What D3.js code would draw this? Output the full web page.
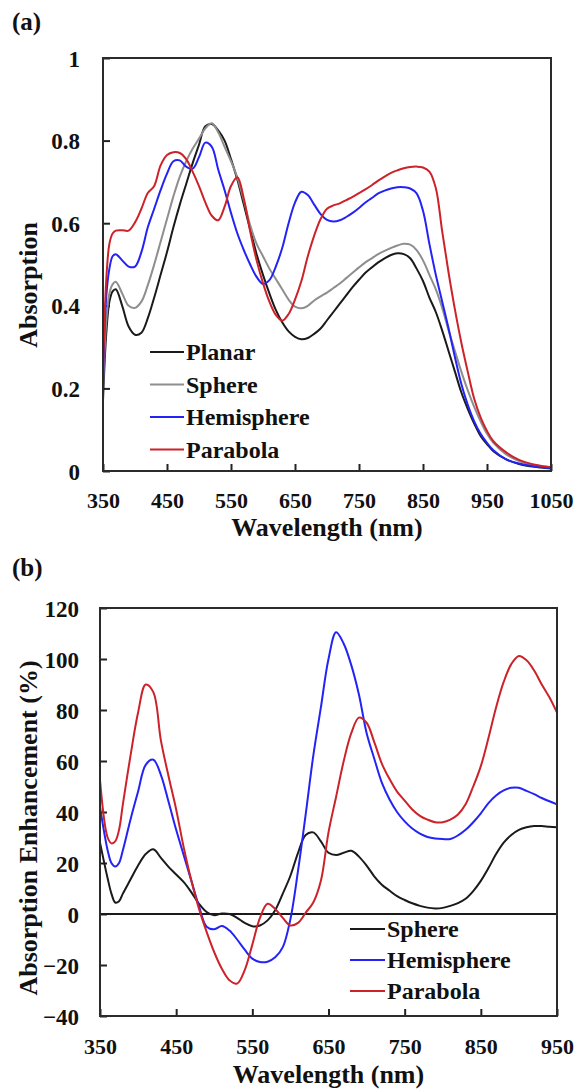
<!DOCTYPE html>
<html>
<head>
<meta charset="utf-8">
<script src="https://cdn.jsdelivr.net/npm/d3@7"></script>
<style>
  body { margin: 0; background: #fff; }
  svg text { font-family: "Liberation Serif", "Times New Roman", serif; font-weight: bold; fill: #111; }
</style>
</head>
<body>
<div class="myViz"></div>
<script>
// ---- panel (a): absorption spectra ----
var wlA = [350, 355, 360, 365, 370, 380, 390, 400, 410, 420, 430, 440, 450, 460, 470, 480, 490, 500,
  510, 520, 530, 540, 550, 560, 570, 580, 590, 600, 610, 620, 630, 640, 650, 660, 670, 680, 690, 700,
  710, 720, 730, 740, 750, 760, 770, 780, 790, 800, 810, 820, 830, 840, 850, 860, 870, 880, 890, 900,
  910, 920, 930, 940, 950, 960, 980, 1000, 1025, 1050];

var planar = [0.17, 0.33, 0.41, 0.435, 0.44, 0.40, 0.35, 0.33, 0.335, 0.37, 0.42, 0.475, 0.53, 0.59, 0.645, 0.695, 0.745, 0.79,
  0.835, 0.84, 0.825, 0.80, 0.755, 0.705, 0.645, 0.585, 0.525, 0.475, 0.43, 0.39, 0.36, 0.338, 0.325, 0.319, 0.322, 0.332, 0.345, 0.365,
  0.385, 0.405, 0.425, 0.445, 0.463, 0.48, 0.493, 0.505, 0.515, 0.523, 0.527, 0.525, 0.515, 0.49, 0.46, 0.42, 0.385, 0.34, 0.29, 0.24,
  0.19, 0.15, 0.115, 0.085, 0.065, 0.048, 0.028, 0.017, 0.01, 0.006];

var sphereA = [0.20, 0.36, 0.43, 0.452, 0.458, 0.43, 0.40, 0.395, 0.41, 0.45, 0.50, 0.555, 0.61, 0.665, 0.713, 0.75, 0.78, 0.805,
  0.83, 0.842, 0.82, 0.785, 0.75, 0.71, 0.655, 0.595, 0.55, 0.52, 0.49, 0.465, 0.44, 0.415, 0.398, 0.394, 0.40, 0.413, 0.423, 0.432,
  0.443, 0.454, 0.467, 0.48, 0.493, 0.505, 0.515, 0.525, 0.533, 0.54, 0.546, 0.55, 0.548, 0.535, 0.51, 0.475, 0.44, 0.395, 0.34, 0.29,
  0.24, 0.195, 0.155, 0.12, 0.09, 0.068, 0.04, 0.024, 0.013, 0.008];

var hemiA = [0.22, 0.42, 0.49, 0.52, 0.525, 0.51, 0.495, 0.495, 0.53, 0.59, 0.635, 0.68, 0.72, 0.75, 0.752, 0.737, 0.732, 0.76,
  0.795, 0.785, 0.73, 0.68, 0.625, 0.575, 0.535, 0.50, 0.47, 0.453, 0.462, 0.495, 0.54, 0.60, 0.65, 0.676, 0.668, 0.645, 0.622, 0.608,
  0.604, 0.607, 0.615, 0.625, 0.637, 0.65, 0.661, 0.672, 0.679, 0.684, 0.687, 0.687, 0.684, 0.672, 0.63, 0.55, 0.475, 0.41, 0.345, 0.275,
  0.21, 0.16, 0.12, 0.09, 0.068, 0.05, 0.028, 0.018, 0.011, 0.007];

var paraA = [0.24, 0.46, 0.55, 0.575, 0.582, 0.583, 0.582, 0.602, 0.635, 0.673, 0.69, 0.74, 0.765, 0.772, 0.77, 0.755, 0.725, 0.69,
  0.65, 0.618, 0.607, 0.64, 0.69, 0.711, 0.66, 0.58, 0.51, 0.455, 0.41, 0.378, 0.364, 0.38, 0.415, 0.46, 0.52, 0.57, 0.61, 0.635,
  0.643, 0.648, 0.656, 0.664, 0.673, 0.682, 0.692, 0.703, 0.713, 0.722, 0.728, 0.733, 0.736, 0.737, 0.735, 0.725, 0.685, 0.58, 0.48, 0.39,
  0.31, 0.24, 0.175, 0.13, 0.097, 0.072, 0.045, 0.027, 0.015, 0.009];

var xTicksA = [350, 450, 550, 650, 750, 850, 950, 1050];
var yTicksA = [0, 0.2, 0.4, 0.6, 0.8, 1];

// ---- panel (b): absorption enhancement ----
var wlB = [350, 360, 365, 370, 375, 380, 390, 400, 410, 420, 430, 440, 450, 460, 470, 480, 490, 500,
  510, 520, 530, 540, 550, 560, 570, 580, 590, 600, 610, 620, 630, 640, 650, 660, 670, 680, 690, 700,
  710, 720, 730, 740, 750, 760, 770, 780, 790, 800, 810, 820, 830, 840, 850, 860, 870, 880, 890, 900,
  910, 920, 930, 940, 950];

var sphereB = [28, 14, 8, 4.5, 5, 8, 13.5, 19, 23.5, 25.4, 22, 18.5, 15.5, 12.5, 8.5, 4, 0.8, -0.5,
  0.2, 0, -1.5, -3.5, -4.8, -4.5, -2.5, 1.5, 8, 15, 24, 31, 32, 28.5, 24, 23.1, 24, 24.8, 22.5, 19,
  14.8, 11.5, 9.2, 7, 5.5, 4.2, 3.2, 2.5, 2.2, 2.4, 3.2, 4.3, 6, 9, 13, 18, 23.5, 28, 31, 33,
  34, 34.5, 34.5, 34.2, 34];

var hemiB = [42, 25, 20, 18.6, 20, 25, 37, 48, 58.5, 60.5, 54.5, 44, 33, 23, 13, 3, -5, -6,
  -4.7, -6.5, -10, -14, -17.5, -18.8, -18.7, -17, -13, -2, 17, 39, 62, 81, 100, 110.5, 106, 97.5, 86, 71,
  61, 51.5, 45, 40, 36.3, 33.5, 31.5, 30.2, 29.6, 29.4, 29.4, 30.8, 33, 36, 39.5, 43.5, 46.5, 48.5, 49.5, 49.5,
  48.3, 47, 45.5, 44.2, 43];

var paraB = [52.5, 30, 27.7, 28.5, 33, 43, 62, 79, 90, 87, 68, 54, 41, 26, 13, 2, -7, -15,
  -21.5, -26, -27.3, -22, -12, -1.5, 4, 2, -1.5, -4.5, -3.5, 0.5, 4.5, 13, 32, 46, 60, 71, 77, 75,
  67.5, 59, 53, 48, 44.5, 41, 38.5, 37, 36, 36, 37, 39, 43, 50, 58, 69, 81, 91, 98, 101.2,
  99.5, 95.5, 90, 85, 79];

var xTicksB = [350, 450, 550, 650, 750, 850, 950];
var yTicksB = [-40, -20, 0, 20, 40, 60, 80, 100, 120];

var colors = {planar: "#1a1a1a", sphere: "#8e8e8e", hemi: "#2323f5", para: "#cc2229"};

var svg = d3.select(".myViz").append("svg")
  .attr("width", 575)
  .attr("height", 1090);

function drawPanel(opt) {
  var g = svg.append("g").attr("transform", `translate(${opt.left}, ${opt.top})`);
  var w = opt.width, h = opt.height;

  var x = d3.scaleLinear().domain(opt.xDomain).range([0, w]);
  var y = d3.scaleLinear().domain(opt.yDomain).range([h, 0]);

  // x axis, ticks pointing inward
  var xa = g.append("g")
    .attr("transform", "translate(0," + h + ")")
    .call(d3.axisBottom(x).tickValues(opt.xTicks).tickSize(-7).tickFormat(d3.format("d")));
  xa.select(".domain").remove();
  xa.selectAll("line").attr("stroke", "#222").attr("stroke-width", 2);
  xa.selectAll("text")
    .attr("y", opt.xLabelDy).attr("dy", null)
    .style("font-size", "22px");

  var ya = g.append("g")
    .call(d3.axisLeft(y).tickValues(opt.yTicks).tickSize(-7).tickFormat(opt.yFormat));
  ya.select(".domain").remove();
  ya.selectAll("line").attr("stroke", "#222").attr("stroke-width", 2);
  ya.selectAll("text")
    .attr("x", -opt.yLabelPad).attr("dy", "0.35em")
    .style("font-size", "23px");

  if (opt.zeroLine) {
    g.append("line")
      .attr("x1", 0).attr("x2", w)
      .attr("y1", y(0)).attr("y2", y(0))
      .attr("stroke", "#1a1a1a").attr("stroke-width", 2);
  }

  var line = d3.line()
    .x((d, i) => x(opt.wl[i]))
    .y(d => y(d))
    .curve(d3.curveCatmullRom.alpha(0.5));

  opt.series.forEach(s => {
    g.append("path")
      .datum(s.values)
      .attr("d", line)
      .attr("fill", "none")
      .attr("stroke", s.color)
      .attr("stroke-width", 2);
  });

  // frame
  g.append("rect")
    .attr("width", w).attr("height", h)
    .attr("fill", "none")
    .attr("stroke", "#2b2b2b")
    .attr("stroke-width", 2);

  // axis titles
  g.append("text")
    .attr("x", w / 2).attr("y", opt.xTitleY)
    .attr("text-anchor", "middle")
    .style("font-size", "26px")
    .text("Wavelength (nm)");

  g.append("text")
    .attr("transform", `translate(${opt.yTitleX}, ${opt.yTitleY}) rotate(-90)`)
    .attr("text-anchor", "middle")
    .style("font-size", "26px")
    .text(opt.yTitle);

  // legend
  var lg = g.append("g").attr("transform", `translate(${opt.legend[0]}, ${opt.legend[1]})`);
  opt.series.forEach((s, i) => {
    var row = lg.append("g").attr("transform", `translate(0, ${i * opt.legendStep})`);
    row.append("line").attr("x1", 0).attr("x2", opt.legendLen)
      .attr("stroke", s.color).attr("stroke-width", 2);
    row.append("text").attr("x", opt.legendLen + 2).attr("dy", "0.35em")
      .style("font-size", "24px")
      .text(s.name);
  });

  svg.append("text")
    .attr("x", 12).attr("y", opt.tagY)
    .style("font-size", "25px")
    .text(opt.tag);
}

drawPanel({
  left: 103, top: 58, width: 448, height: 413,
  wl: wlA, xDomain: [350, 1050], yDomain: [0, 1],
  xTicks: xTicksA, yTicks: yTicksA,
  yFormat: d => d === 0 || d === 1 ? d3.format("d")(d) : d3.format(".1f")(d),
  xLabelDy: 37, yLabelPad: 23,
  xTitleY: 478, yTitleX: -66, yTitleY: 227,
  yTitle: "Absorption",
  series: [
    {name: "Planar", values: planar, color: colors.planar},
    {name: "Sphere", values: sphereA, color: colors.sphere},
    {name: "Hemisphere", values: hemiA, color: colors.hemi},
    {name: "Parabola", values: paraA, color: colors.para}
  ],
  legend: [47, 294], legendStep: 32.5, legendLen: 34,
  tag: "(a)", tagY: 30
});

drawPanel({
  left: 100, top: 608, width: 457, height: 408,
  wl: wlB, xDomain: [350, 950], yDomain: [-40, 120],
  xTicks: xTicksB, yTicks: yTicksB,
  yFormat: d3.format("d"),
  xLabelDy: 38, yLabelPad: 21,
  xTitleY: 475, yTitleX: -63, yTitleY: 220,
  yTitle: "Absorption Enhancement (%)",
  zeroLine: true,
  series: [
    {name: "Sphere", values: sphereB, color: colors.planar},
    {name: "Hemisphere", values: hemiB, color: colors.hemi},
    {name: "Parabola", values: paraB, color: colors.para}
  ],
  legend: [250, 321], legendStep: 31, legendLen: 35,
  tag: "(b)", tagY: 576
});
</script>
</body>
</html>
